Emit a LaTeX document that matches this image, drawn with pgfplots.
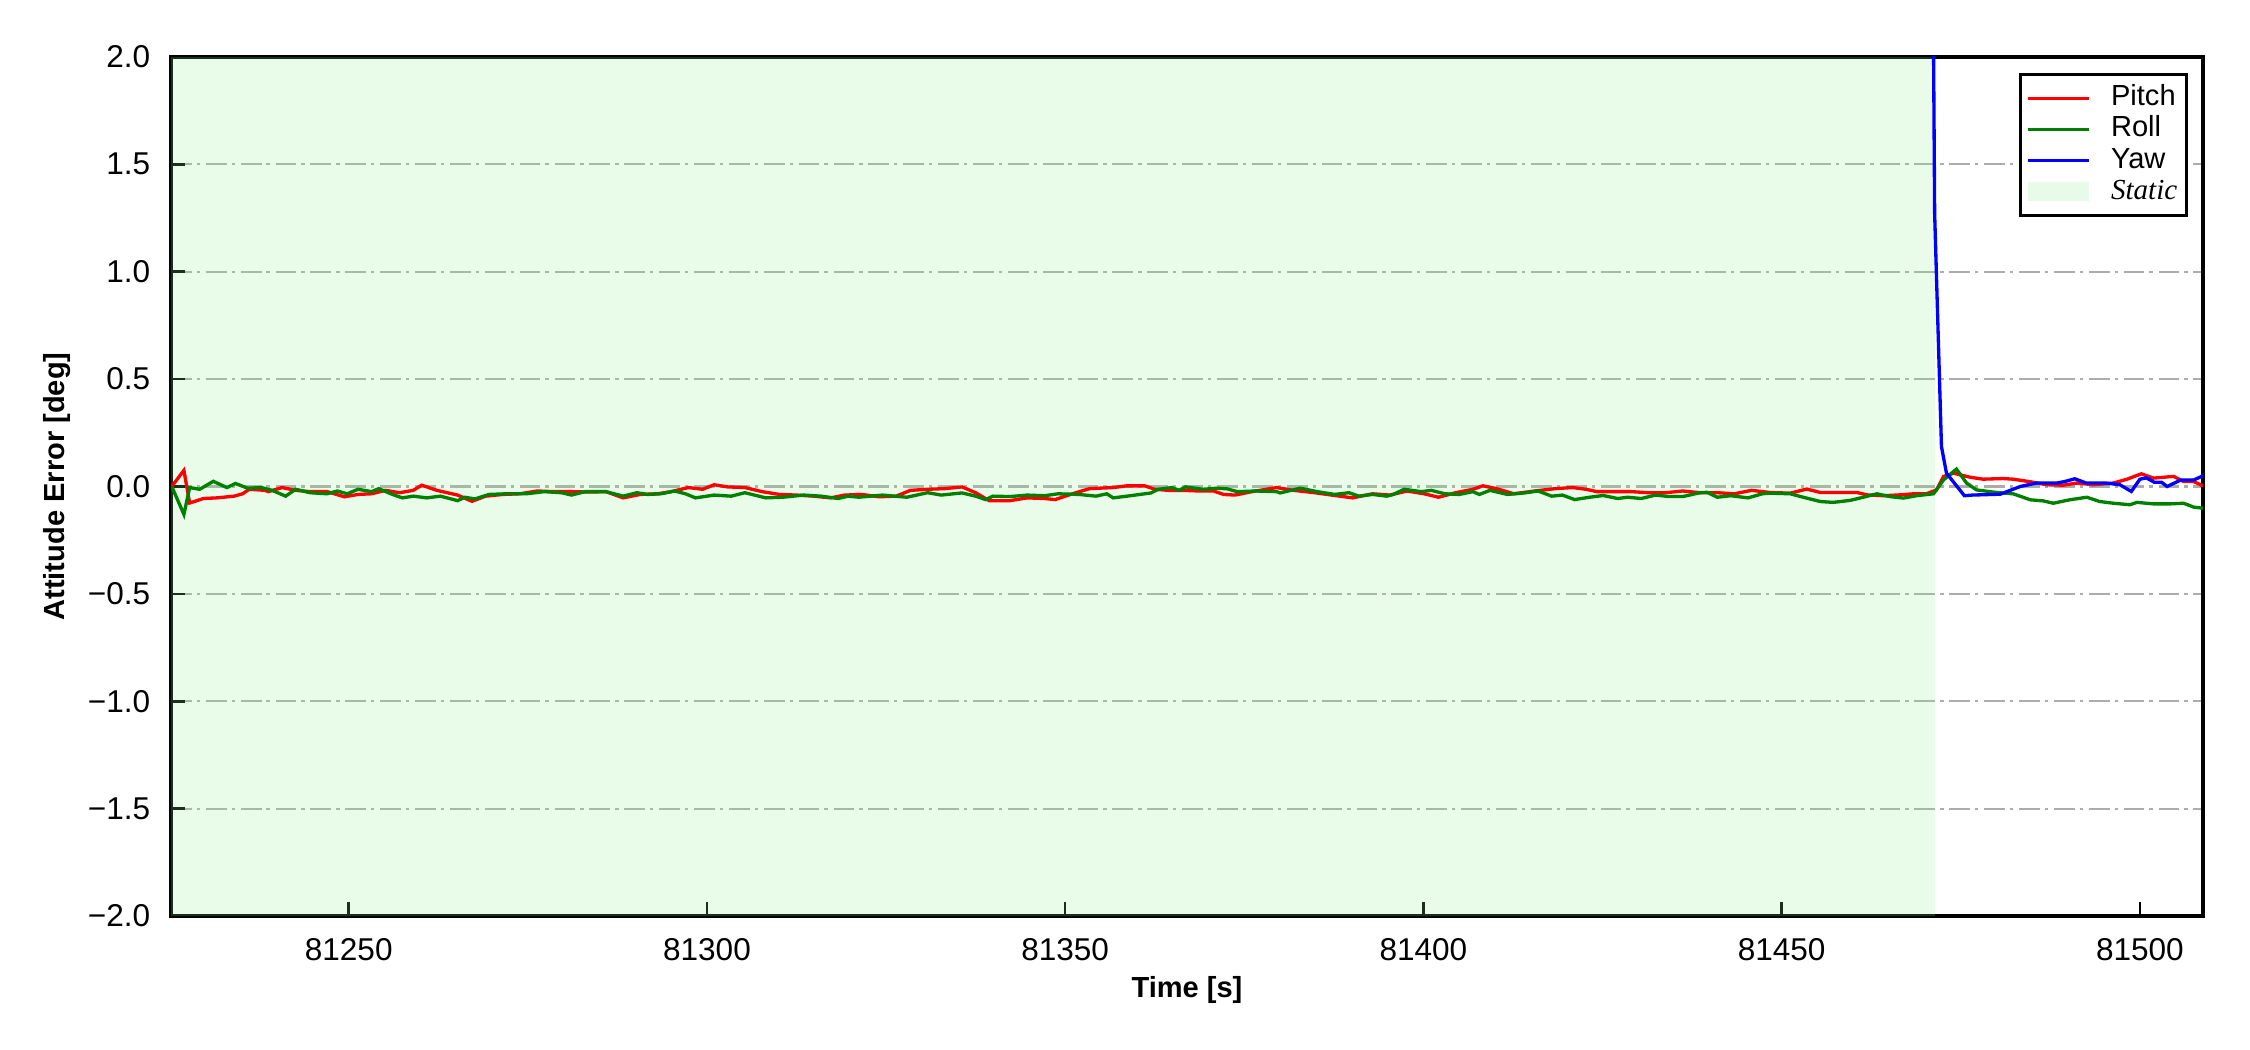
\documentclass[border=0pt]{standalone}
\usepackage{fontspec}
\setmainfont{Liberation Sans}
\newfontfamily\serifit{Liberation Serif}
\usepackage{pgfplots}
\pgfplotsset{compat=1.18}
\definecolor{lightgreenmpl}{RGB}{144,238,144}
\definecolor{gridgray}{RGB}{172,172,172}
\definecolor{mplgreen}{RGB}{0,128,0}
\pgfplotsset{staticlegend/.style={/pgfplots/legend image code/.code={\fill[##1] (0pt,-2.2pt) rectangle (14.5pt,2.2pt);}}}
\begin{document}
\begin{tikzpicture}
\useasboundingbox (0,0) rectangle (542.04pt,252.95pt);
\begin{axis}[
  at={(41.2pt,32.25pt)}, anchor=south west,
  scale only axis, width=489.5pt, height=207pt,
  xmin=81225.2, xmax=81508.8, ymin=-2, ymax=2,
  scaled x ticks=false, scaled y ticks=false,
  axis line style={line width=0.8pt},
  tick align=inside, xtick pos=bottom, ytick pos=left,
  major tick length=3.3pt,
  tick style={black, line width=0.6pt},
  xtick={81250,81300,81350,81400,81450,81500},
  xticklabels={81250,81300,81350,81400,81450,81500},
  ytick={-2,-1.5,-1,-0.5,0,0.5,1,1.5,2},
  yticklabels={−2.0,−1.5,−1.0,−0.5,0.0,0.5,1.0,1.5,2.0},
  ymajorgrids,
  grid style={color=gridgray, line width=0.55pt, dash pattern=on 5pt off 1.2pt on 0.8pt off 1.4pt},
  tick label style={font=\fontsize{7.6}{9}\selectfont},
  x tick label style={yshift=-1.8pt},
  y tick label style={xshift=-1.5pt},
  xlabel={Time [s]}, ylabel={Attitude Error [deg]},
  label style={font=\fontsize{7}{8}\selectfont\bfseries},
  xlabel style={at={(axis description cs:0.5,0)}, anchor=center, yshift=-17.8pt},
  ylabel style={at={(axis description cs:0,0.5)}, anchor=center, rotate=0, yshift=27.4pt},
  legend style={at={(1,1)}, anchor=north east, xshift=-3.6pt, yshift=-3.8pt,
    draw=black, line width=0.8pt, font=\fontsize{7}{7.5}\selectfont,
    inner xsep=1.6pt, inner ysep=2pt, column sep=4.4pt,
    nodes={inner sep=0.6pt, text height=5pt, text depth=1.3pt, anchor=west}},
  legend cell align=left,
  legend image code/.code={\draw[#1, line width=0.8pt] (0pt,0pt) -- (14.5pt,0pt);},
]
\addplot[draw=none, fill=lightgreenmpl, fill opacity=0.2, forget plot]
  coordinates {(81220,-2) (81471.4,-2) (81471.4,2) (81220,2)} \closedcycle;

\addplot[red, line width=0.8pt] coordinates {
(81225.3,0.000) (81227.0,0.075) (81227.8,-0.077) (81229.7,-0.056) (81231.6,-0.053) (81234.0,-0.045) (81235.2,-0.034) (81236.1,-0.013) (81238.3,-0.018) (81238.8,-0.024) (81240.7,-0.005) (81242.6,-0.018) (81244.6,-0.024) (81247.0,-0.024) (81249.4,-0.048) (81251.3,-0.037) (81253.2,-0.034) (81255.1,-0.018) (81257.1,-0.029) (81259.0,-0.018) (81260.2,0.006) (81262.3,-0.018) (81265.2,-0.040) (81267.2,-0.069) (81269.1,-0.045) (81271.5,-0.037) (81273.9,-0.034) (81276.3,-0.021) (81278.7,-0.024) (81281.1,-0.024) (81283.5,-0.026) (81285.9,-0.024) (81288.3,-0.053) (81290.7,-0.037) (81293.1,-0.034) (81295.0,-0.024) (81297.4,-0.005) (81299.4,-0.013)
(81301.0,0.008) (81302.9,-0.002) (81305.3,-0.005) (81307.7,-0.024) (81310.1,-0.037) (81312.5,-0.040) (81314.9,-0.045) (81317.3,-0.053) (81319.2,-0.040) (81321.6,-0.037) (81324.0,-0.048) (81326.4,-0.045) (81328.4,-0.018) (81330.8,-0.013) (81333.2,-0.010) (81335.6,-0.002) (81337.5,-0.029) (81339.4,-0.066) (81342.3,-0.066) (81344.7,-0.053) (81347.1,-0.056) (81348.6,-0.061) (81351.0,-0.034) (81353.4,-0.010) (81356.7,-0.005) (81358.6,0.003) (81361.1,0.003) (81362.5,-0.013) (81364.4,-0.018) (81366.3,-0.018) (81368.7,-0.021) (81370.7,-0.021) (81372.1,-0.037)
(81373.7,-0.040) (81376.1,-0.024) (81379.5,-0.005) (81381.9,-0.018) (81384.8,-0.029) (81387.2,-0.040) (81390.1,-0.053) (81392.9,-0.034) (81395.3,-0.040) (81397.7,-0.021) (81400.1,-0.034) (81402.1,-0.050) (81404.5,-0.029) (81406.9,-0.013) (81408.3,0.003) (81410.2,-0.010) (81412.6,-0.034) (81415.5,-0.021) (81418.4,-0.010) (81420.8,-0.005) (81422.7,-0.013) (81424.2,-0.024) (81426.6,-0.024) (81429.0,-0.024) (81431.4,-0.029) (81433.8,-0.029) (81436.2,-0.021) (81438.6,-0.029) (81441.0,-0.029) (81443.4,-0.034) (81445.8,-0.018)
(81448.4,-0.028) (81451.2,-0.031) (81453.5,-0.012) (81455.4,-0.028) (81457.7,-0.028) (81460.5,-0.028) (81461.9,-0.039) (81464.2,-0.043) (81466.5,-0.039) (81468.4,-0.034) (81470.2,-0.034) (81471.6,-0.016) (81472.6,0.047) (81474.0,0.062) (81476.3,0.043) (81478.1,0.034) (81480.9,0.037) (81482.3,0.034) (81484.7,0.022) (81487.0,0.008) (81489.3,0.006) (81491.2,0.016) (81493.5,0.008) (81496.3,0.016) (81498.2,0.034) (81500.2,0.059) (81501.9,0.039) (81504.7,0.047) (81506.1,0.023) (81507.5,0.023) (81508.8,0.003)
};

\addplot[mplgreen, line width=0.8pt] coordinates {
(81225.3,0.000) (81227.0,-0.130) (81227.8,-0.005) (81229.2,-0.013) (81231.1,0.024) (81233.0,-0.005) (81234.2,0.014) (81235.9,-0.008) (81237.8,-0.005) (81239.3,-0.018) (81241.2,-0.045) (81242.6,-0.013) (81244.6,-0.029) (81247.0,-0.034) (81248.4,-0.021) (81249.8,-0.034) (81251.3,-0.013) (81253.2,-0.024) (81254.2,-0.010) (81256.1,-0.037) (81257.5,-0.053) (81259.0,-0.045) (81260.9,-0.053) (81262.8,-0.045) (81265.2,-0.066) (81266.2,-0.050) (81267.6,-0.058) (81269.6,-0.037) (81272.0,-0.034) (81274.8,-0.034) (81277.3,-0.024) (81279.7,-0.029) (81281.1,-0.040) (81283.0,-0.024) (81285.9,-0.024) (81288.3,-0.045) (81290.2,-0.029) (81291.7,-0.037) (81293.6,-0.034) (81295.5,-0.021) (81297.0,-0.034) (81298.4,-0.053)
(81301.0,-0.040) (81303.4,-0.045) (81305.3,-0.029) (81308.2,-0.053) (81310.6,-0.050) (81313.5,-0.040) (81315.9,-0.045) (81318.3,-0.056) (81319.7,-0.045) (81321.2,-0.050) (81324.5,-0.040) (81327.9,-0.050) (81330.8,-0.029) (81332.7,-0.040) (81335.6,-0.030) (81337.5,-0.045) (81338.9,-0.061) (81339.9,-0.045) (81342.3,-0.047) (81344.7,-0.040) (81347.1,-0.043) (81349.0,-0.034) (81351.9,-0.037) (81354.3,-0.045) (81355.8,-0.034) (81356.7,-0.053) (81359.1,-0.043) (81362.0,-0.030) (81363.0,-0.013) (81364.9,-0.005) (81365.9,-0.018) (81366.8,-0.002) (81369.2,-0.013) (81371.2,-0.008) (81372.6,-0.011)
(81374.0,-0.024) (81376.6,-0.021) (81379.5,-0.024) (81380.0,-0.030) (81382.8,-0.008) (81385.2,-0.024) (81387.6,-0.037) (81389.6,-0.029) (81391.0,-0.045) (81392.9,-0.037) (81394.9,-0.045) (81395.8,-0.037) (81397.3,-0.013) (81399.7,-0.024) (81401.1,-0.018) (81403.0,-0.034) (81405.0,-0.037) (81406.9,-0.024) (81407.8,-0.037) (81409.3,-0.018) (81411.7,-0.037) (81414.1,-0.030) (81416.0,-0.021) (81417.9,-0.045) (81419.4,-0.040) (81421.1,-0.061) (81423.2,-0.050) (81425.1,-0.042) (81427.1,-0.056) (81428.5,-0.050) (81430.4,-0.056) (81432.4,-0.040) (81434.3,-0.047) (81436.2,-0.047) (81438.6,-0.029) (81439.6,-0.027) (81441.0,-0.050) (81442.9,-0.043) (81445.3,-0.053) (81447.3,-0.034)
(81448.4,-0.031) (81451.2,-0.034) (81453.0,-0.050) (81455.4,-0.070) (81457.2,-0.074) (81459.5,-0.065) (81460.9,-0.054) (81463.3,-0.034) (81465.1,-0.047) (81467.0,-0.054) (81468.8,-0.043) (81471.2,-0.034) (81472.6,0.031) (81474.4,0.081) (81475.8,0.016) (81477.2,-0.016) (81480.0,-0.028) (81482.3,-0.034) (81484.7,-0.062) (81486.5,-0.067) (81487.9,-0.078) (81490.2,-0.062) (81492.6,-0.050) (81494.4,-0.070) (81496.3,-0.078) (81498.6,-0.085) (81499.6,-0.074) (81501.9,-0.081) (81504.2,-0.081) (81506.1,-0.078) (81507.5,-0.096) (81508.8,-0.101)
};

\addplot[blue, line width=0.8pt] coordinates {
(81470.5,5.5) (81471.35,1.27) (81472.3,0.186) (81473.0,0.062) (81475.5,-0.043) (81476.6,-0.040) (81480.5,-0.036) (81483.3,0.000) (81485.6,0.016) (81488.4,0.016) (81489.5,0.023) (81490.9,0.036) (81492.5,0.016) (81495.3,0.016) (81497.2,0.008) (81498.8,-0.023) (81500.0,0.034) (81500.9,0.040) (81502.0,0.020) (81503.0,0.020) (81503.8,0.000) (81505.7,0.030) (81507.5,0.030) (81508.8,0.050)
};

\addlegendimage{draw=none, fill=lightgreenmpl, fill opacity=0.2, staticlegend}

\legend{Pitch, Roll, Yaw, {\serifit\itshape Static}}
\end{axis}
\end{tikzpicture}
\end{document}
